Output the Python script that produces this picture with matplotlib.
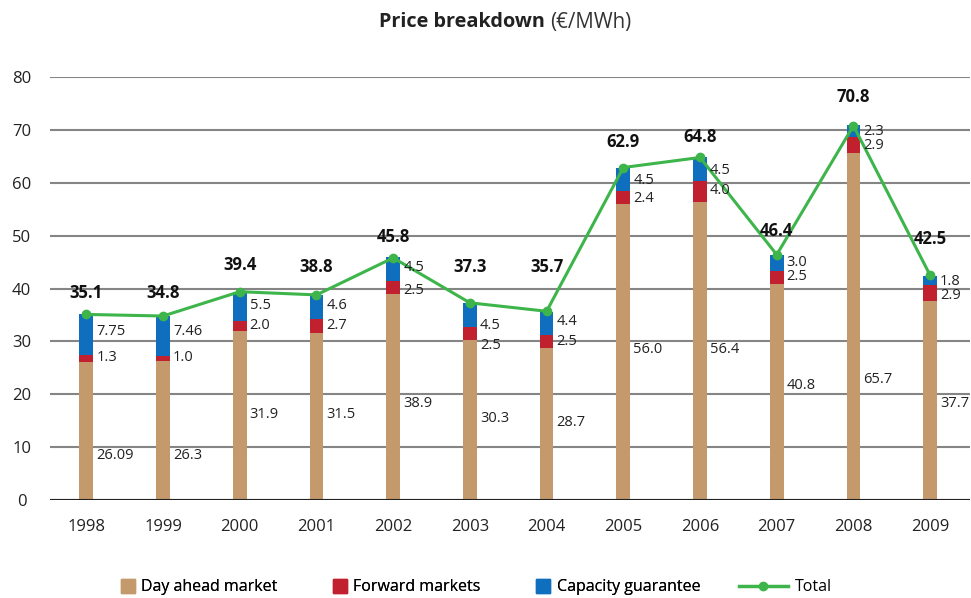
import numpy as np
import matplotlib.pyplot as plt
from matplotlib.lines import Line2D

plt.rcParams['font.family'] = ['Open Sans', 'DejaVu Sans']

years = ["1998", "1999", "2000", "2001", "2002", "2003",
         "2004", "2005", "2006", "2007", "2008", "2009"]
day_ahead = [26.09, 26.3, 31.9, 31.5, 38.9, 30.3, 28.7, 56.0, 56.4, 40.8, 65.7, 37.7]
forward = [1.3, 1.0, 2.0, 2.7, 2.5, 2.5, 2.5, 2.4, 4.0, 2.5, 2.9, 2.9]
capacity = [7.75, 7.46, 5.5, 4.6, 4.5, 4.5, 4.4, 4.5, 4.5, 3.0, 2.3, 1.8]
total = [35.1, 34.8, 39.4, 38.8, 45.8, 37.3, 35.7, 62.9, 64.8, 46.4, 70.8, 42.5]

day_lbl = ["26.09", "26.3", "31.9", "31.5", "38.9", "30.3", "28.7", "56.0", "56.4", "40.8", "65.7", "37.7"]
fwd_lbl = ["1.3", "1.0", "2.0", "2.7", "2.5", "2.5", "2.5", "2.4", "4.0", "2.5", "2.9", "2.9"]
cap_lbl = ["7.75", "7.46", "5.5", "4.6", "4.5", "4.5", "4.4", "4.5", "4.5", "3.0", "2.3", "1.8"]

# label heights (as placed in the original)
day_y = [8.5, 8.5, 16.1, 16.1, 18.3, 15.5, 14.6, 28.4, 28.4, 21.7, 22.7, 18.3]
fwd_y = [26.9, 26.9, 33.1, 33.1, 39.7, 29.3, 29.9, 57.1, 58.6, 42.2, 67.1, 38.6]
cap_y = [31.8, 31.8, 36.7, 36.7, 43.9, 33.1, 33.7, 60.5, 62.4, 45.0, 69.8, 41.4]
tot_y = [39.1, 39.1, 44.4, 44.0, 49.7, 44.1, 44.1, 67.7, 68.7, 50.9, 76.2, 49.4]

c_day = "#C49A6C"
c_fwd = "#C1202F"
c_cap = "#0F6EBE"
c_tot = "#3DB54A"

x = np.arange(len(years))
w = 0.18

fig = plt.figure(figsize=(9.71, 5.98), dpi=100)
ax = fig.add_axes([0.051, 0.164, 0.948, 0.707])

ax.set_axisbelow(True)
ax.yaxis.grid(True, color="#858585", linewidth=1.5)
bot2 = np.array(day_ahead) + np.array(forward)
ax.bar(x, day_ahead, w, color=c_day)
ax.bar(x, forward, w, bottom=day_ahead, color=c_fwd)
ax.bar(x, capacity, w, bottom=bot2, color=c_cap)
ax.plot(x, total, color=c_tot, linewidth=2.2, marker="o", markersize=6)

for i in range(len(years)):
    ax.text(x[i] + 0.13, day_y[i], day_lbl[i], fontsize=10.5, va="center", color="#222222")
    ax.text(x[i] + 0.13, fwd_y[i], fwd_lbl[i], fontsize=10.5, va="center", color="#222222")
    ax.text(x[i] + 0.13, cap_y[i], cap_lbl[i], fontsize=10.5, va="center", color="#222222")
    ax.text(x[i], tot_y[i], f"{total[i]:.1f}", fontsize=12, fontweight="bold",
            ha="center", va="center", color="#111111")

ax.set_xlim(-0.48, 11.52)
ax.set_ylim(0, 80)
ax.set_yticks(range(0, 81, 10))
ax.set_xticks(x)
ax.set_xticklabels(years)
ax.tick_params(length=0, labelsize=12, colors="#222222")
ax.tick_params(axis="x", pad=14)
for s in ax.spines.values():
    s.set_visible(False)
ax.axhline(0, color="#222222", linewidth=1.5)
for lab in ax.get_yticklabels():
    lab.set_horizontalalignment("center")
ax.tick_params(axis="y", pad=20)

t1 = fig.text(0.390, 0.963, "Price breakdown ", fontsize=14.3, fontweight="bold",
              ha="left", va="center", color="#222222")
fig.canvas.draw()
bb = t1.get_window_extent().transformed(fig.transFigure.inverted())
fig.text(bb.x1, 0.963, "(€/MWh)", fontsize=14.8, ha="left", va="center", color="#333333")

sq = [Line2D([], [], color=c, marker="s", markersize=10, linestyle="none")
      for c in (c_day, c_fwd, c_cap)]
leg1 = fig.legend(sq, ["Day ahead market", "Forward markets", "Capacity guarantee"],
                  loc="center", bbox_to_anchor=(0.423, 0.018), ncol=3, frameon=False,
                  fontsize=11.5, handlelength=0.8, columnspacing=3.5, handletextpad=0.45)
fig.add_artist(leg1)
line = Line2D([], [], color=c_tot, linewidth=2.5, marker="o", markersize=6)
fig.legend([line], ["Total"], loc="center", bbox_to_anchor=(0.809, 0.018),
           frameon=False, fontsize=11.5, handlelength=3.1, handletextpad=0.45)

plt.savefig("out.png", dpi=100)
